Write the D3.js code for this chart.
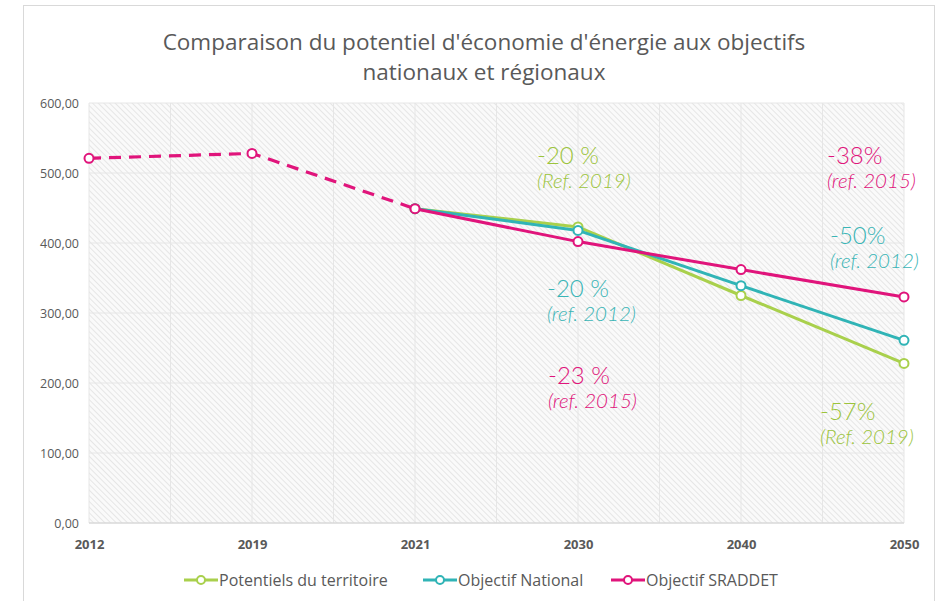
<!DOCTYPE html>
<html>
<head>
<meta charset="utf-8">
<script src="https://cdn.jsdelivr.net/npm/d3@7"></script>
<style>
  body { margin: 0; background: #fff; }
  svg { display: block; }
</style>
</head>
<body>
<div id="chart"></div>
<script>
const years = ['2012', '2019', '2021', '2030', '2040', '2050'];
const potentiels = [null, null, 449, 423, 325, 228];
const national = [null, null, 449, 418, 339, 261];
const sraddet = [521, 528, 449, 402, 362, 323];
const yTicks = [0, 100, 200, 300, 400, 500, 600];
const legendLabels = ['Potentiels du territoire', 'Objectif National', 'Objectif SRADDET'];

// percentage labels placed beside the points
const notes = [
  { main: '-20 %', ref: '(Ref. 2019)', c: '#9cc43c', x: 537, y: 164 },
  { main: '-20 %', ref: '(ref. 2012)', c: '#3ab5b6', x: 547, y: 297 },
  { main: '-23 %', ref: '(ref. 2015)', c: '#e0157b', x: 548, y: 384 },
  { main: '-38%', ref: '(ref. 2015)', c: '#e0157b', x: 827, y: 164 },
  { main: '-50%', ref: '(ref. 2012)', c: '#3ab5b6', x: 830, y: 244 },
  { main: '-57%', ref: '(Ref. 2019)', c: '#9cc43c', x: 820, y: 420 },
];

const W = 937, H = 601;
const plot = { left: 89, right: 904, top: 103, bottom: 523 };

const svg = d3.select('#chart').append('svg').attr('width', W).attr('height', H);

// chart border
svg.append('rect').attr('x', 23.5).attr('y', 5.5).attr('width', 911).attr('height', 620)
  .attr('fill', 'none').attr('stroke', '#d9d9d9');

const defs = svg.append('defs');
const pat = defs.append('pattern').attr('id', 'hatch').attr('patternUnits', 'userSpaceOnUse')
  .attr('width', 4).attr('height', 4).attr('patternTransform', 'rotate(-45)');
pat.append('rect').attr('width', 4).attr('height', 4).attr('fill', '#fafafa');
pat.append('line').attr('x1', 0).attr('y1', 0).attr('x2', 0).attr('y2', 4)
  .attr('stroke', '#e0e0e0').attr('stroke-width', 1.5);

const x = d3.scalePoint().domain(years).range([plot.left, plot.right]);
const y = d3.scaleLinear().domain([0, 600]).range([plot.bottom, plot.top]);

svg.append('rect').attr('x', plot.left).attr('y', plot.top)
  .attr('width', plot.right - plot.left).attr('height', plot.bottom - plot.top)
  .attr('fill', 'url(#hatch)');

// grid
const step = x.step();
const vx = d3.range(0, years.length * 2 - 1).map(i => plot.left + i * step / 2);
svg.append('g').selectAll('line').data(vx).join('line')
  .attr('x1', d => d).attr('x2', d => d).attr('y1', plot.top).attr('y2', plot.bottom)
  .attr('stroke', '#e6e6e6').attr('stroke-width', 1);
svg.append('g').selectAll('line').data(yTicks).join('line')
  .attr('x1', plot.left).attr('x2', plot.right).attr('y1', d => y(d)).attr('y2', d => y(d))
  .attr('stroke', d => d === 0 ? '#d9d9d9' : '#e6e6e6').attr('stroke-width', d => d === 0 ? 1.5 : 1);

// axes
const fmt = d => d3.format('.2f')(d).replace('.', ',');
const yAxis = svg.append('g').attr('transform', `translate(${plot.left},0)`)
  .call(d3.axisLeft(y).tickValues(yTicks).tickFormat(fmt).tickSize(0).tickPadding(10));
yAxis.select('.domain').remove();
yAxis.selectAll('text').attr('fill', '#595959').style('font-family', 'Open Sans, sans-serif').style('font-size', '12.5px');

const xAxis = svg.append('g').attr('transform', `translate(0,${plot.bottom})`)
  .call(d3.axisBottom(x).tickSize(0).tickPadding(17));
xAxis.select('.domain').remove();
xAxis.selectAll('text').attr('fill', '#595959').style('font-family', 'Open Sans, sans-serif')
  .style('font-size', '13px').style('font-weight', 'bold');

// series
const colors = ['#a9d04c', '#30b4b6', '#e0147b'];
const series = [potentiels, national, sraddet];
const line = d3.line().defined(d => d.v != null).x(d => x(d.k)).y(d => y(d.v));

[0, 1, 2].forEach(i => {
  const pts = years.map((k, j) => ({ k, v: series[i][j] }));
  if (i === 2) {
    // measured years dashed, targets solid
    svg.append('path').datum(pts.slice(0, 3)).attr('d', line)
      .attr('fill', 'none').attr('stroke', colors[i]).attr('stroke-width', 3.2)
      .attr('stroke-dasharray', '12,8');
    svg.append('path').datum(pts.slice(2)).attr('d', line)
      .attr('fill', 'none').attr('stroke', colors[i]).attr('stroke-width', 3);
  } else {
    svg.append('path').datum(pts).attr('d', line)
      .attr('fill', 'none').attr('stroke', colors[i]).attr('stroke-width', 3);
  }
  svg.append('g').selectAll('circle').data(pts.filter(d => d.v != null)).join('circle')
    .attr('cx', d => x(d.k)).attr('cy', d => y(d.v)).attr('r', 4.5)
    .attr('fill', '#fff').attr('stroke', colors[i]).attr('stroke-width', 2);
});

// annotations
const ann = svg.append('g').style('font-family', 'Lato, sans-serif');
notes.forEach(n => {
  ann.append('text').attr('x', n.x).attr('y', n.y).attr('fill', n.c)
    .style('font-size', '24px').style('font-weight', 300).text(n.main);
  ann.append('text').attr('x', n.x).attr('y', n.y + 24).attr('fill', n.c)
    .style('font-size', '20.5px').style('font-style', 'italic').style('font-weight', 300).text(n.ref);
});

// title
const title = svg.append('g').attr('fill', '#595959').style('font-family', 'Open Sans, sans-serif')
  .style('font-size', '22.5px').attr('text-anchor', 'middle');
title.append('text').attr('x', 484).attr('y', 50).text("Comparaison du potentiel d'économie d'énergie aux objectifs");
title.append('text').attr('x', 484).attr('y', 80).text('nationaux et régionaux');

// legend
const legX = [184, 423, 611];
const leg = svg.append('g').attr('transform', 'translate(0,580)');
legendLabels.forEach((l, i) => {
  const g = leg.append('g').attr('transform', `translate(${legX[i]},0)`);
  g.append('line').attr('x1', 0).attr('x2', 34).attr('stroke', colors[i]).attr('stroke-width', 3);
  g.append('circle').attr('cx', 17).attr('r', 4).attr('fill', '#fff').attr('stroke', colors[i]).attr('stroke-width', 2);
  g.append('text').attr('x', 35).attr('dy', '0.35em').attr('fill', '#595959')
    .style('font-family', 'Open Sans, sans-serif').style('font-size', '16px').text(l);
});
</script>
</body>
</html>
